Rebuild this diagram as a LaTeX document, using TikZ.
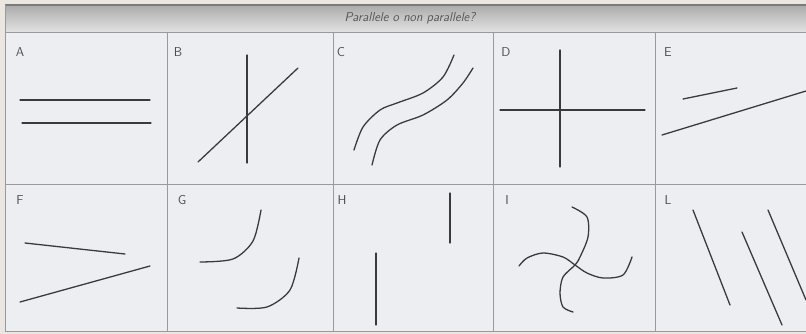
\documentclass[tikz,border=0pt]{standalone}
\usepackage{tikz}
\usepackage{xcolor}
\definecolor{paper}{HTML}{ECE6E0}
\definecolor{cell}{HTML}{ECEEF2}
\definecolor{band}{HTML}{D6D6D7}
\definecolor{rule}{HTML}{9A9A9C}
\definecolor{ink}{HTML}{3A3A3C}
\tikzset{
	cellname/.style={anchor=center, inner sep=0pt, text=ink!90, font=\sffamily\fontsize{11}{13}\selectfont},
	figline/.style={ink, line width=1.1pt, line cap=round},
	gridline/.style={rule, line width=0.7pt}
}

\begin{document}
\begin{tikzpicture}[x=0.03cm, y=-0.03cm]
	\useasboundingbox (0,0) rectangle (806,334);
	\fill[paper] (0,0) rectangle (806,334);
	\fill[cell] (5,32) rectangle (806,331);
	\shade[top color=band!80!black, bottom color=band!70!white] (5,5) rectangle (806,32);
	\draw[gridline, line width=1.4pt, rule!80!black] (5,5) -- (806,5);
	\node[name=title, anchor=center, text=ink!85, font=\sffamily\itshape\fontsize{11}{13}\selectfont] at (410,18) {Parallele o non parallele?};
%	grid of the ten cells
	\draw[gridline] (5,32) -- (806,32);
	\draw[gridline] (5,184) -- (806,184);
	\draw[gridline] (5,331) -- (806,331);
	\draw[gridline] (5,5) -- (5,331);
	\draw[gridline] (167,32) -- (167,331);
	\draw[gridline] (333,32) -- (333,331);
	\draw[gridline] (493,32) -- (493,331);
	\draw[gridline] (655,32) -- (655,331);
	\node[name=la, cellname] at (20,52) {A};
	\node[name=lb, cellname] at (178,52) {B};
	\node[name=lc, cellname] at (341,52) {C};
	\node[name=ld, cellname] at (506,52) {D};
	\node[name=le, cellname] at (668,52) {E};
	\node[name=lf, cellname] at (20,200) {F};
	\node[name=lg, cellname] at (182,200) {G};
	\node[name=lh, cellname] at (342,200) {H};
	\node[name=li, cellname] at (507,200) {I};
	\node[name=ll, cellname] at (668,200) {L};
	% A
	\draw[figline] (20,100) -- (150,100);
	\draw[figline] (22,123) -- (151,123);
	% B
	\draw[figline] (247,55) -- (247,163);
	\draw[figline] (198,162) -- (298,68);
	% C
	\draw[figline] plot[smooth] coordinates {(354,150) (363,127) (380,110) (397,103) (423,93) (443,77) (454,55)};
	\draw[figline] plot[smooth] coordinates {(372,165) (380,140) (397,125) (423,115) (447,100) (463,83) (473,68)};
	% D
	\draw[figline] (560,50) -- (560,167);
	\draw[figline] (500,110) -- (645,110);
	% E
	\draw[figline] (683,99) -- (737,88);
	\draw[figline] (662,135) -- (806,91);
	% F
	\draw[figline] (25,243) -- (125,254);
	\draw[figline] (20,302) -- (150,266);
	% G
	\draw[figline] plot[smooth] coordinates {(200,262) (233,259) (253,241) (261,210)};
	\draw[figline] plot[smooth] coordinates {(237,308) (267,307) (290,290) (299,258)};
	% H
	\draw[figline] (450,193) -- (450,243);
	\draw[figline] (376,253) -- (376,325);
	% I
	\draw[figline] plot[smooth] coordinates {(519,266) (527,258) (543,253) (563,257) (575,265) (587,273) (603,278) (623,275) (632,257)};
	\draw[figline] plot[smooth] coordinates {(572,207) (587,217) (588,237) (580,257) (575,265) (563,277) (560,293) (563,307) (573,312)};
	% L
	\draw[figline] (693,210) -- (730,305);
	\draw[figline] (742,232) -- (782,325);
	\draw[figline] (768,210) -- (806,300);
\end{tikzpicture}
\end{document}
